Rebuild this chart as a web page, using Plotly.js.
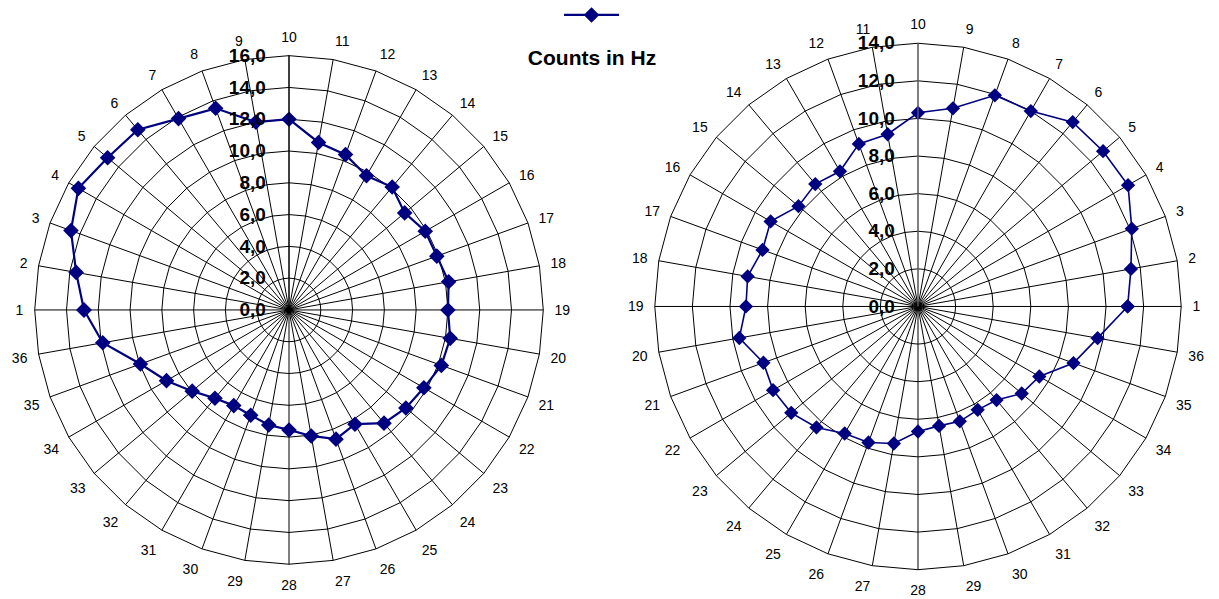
<!DOCTYPE html>
<html>
<head>
<meta charset="utf-8">
<script src="https://cdn.plot.ly/plotly-3.0.1.min.js"></script>
<style>html,body{margin:0;padding:0;background:#fff;}#chart{width:1219px;height:599px;}</style>
</head>
<body>
<div id="chart"></div>
<script>
// Categories (measurement positions 1..36)
const categories = ['1','2','3','4','5','6','7','8','9','10','11','12','13','14','15','16','17','18',
  '19','20','21','22','23','24','25','26','27','28','29','30','31','32','33','34','35','36'];
// Left radar values (Counts in Hz)
const leftValues = [12.9,13.6,14.6,15.3,14.9,14.8,13.9,13.5,12.0,12.0,10.7,10.4,9.75,10.1,9.5,9.9,9.9,10.2,
  10.0,10.3,10.2,9.8,9.6,9.3,8.3,8.65,8.05,7.55,7.35,7.05,6.95,7.25,7.95,8.9,9.95,11.9];
// Right radar values (Counts in Hz)
const rightValues = [11.15,11.5,12.1,12.9,12.85,12.8,12.0,11.95,10.7,10.3,9.3,9.2,8.3,8.5,8.3,9.05,8.8,9.2,
  9.15,9.65,8.75,8.9,8.8,8.4,7.8,7.7,7.4,6.65,6.45,6.5,6.35,6.5,7.2,7.45,8.8,9.7];
const leftTicks = [0,2,4,6,8,10,12,14,16];
const rightTicks = [0,2,4,6,8,10,12,14];
const chartTitle = 'Counts in Hz';

const navy = '#000080';
const closeR = a => a.concat([a[0]]);
const theta = categories.concat([categories[0]]);

const traces = [
  {type:'scatterpolar', subplot:'polar', r: closeR(leftValues), theta: theta, mode:'lines+markers',
   name:' ', line:{color:navy, width:2.2}, marker:{symbol:'diamond', size:12, color:navy}, showlegend:true},
  {type:'scatterpolar', subplot:'polar2', r: closeR(rightValues), theta: theta, mode:'lines+markers',
   name:' ', line:{color:navy, width:1.6}, marker:{symbol:'diamond', size:11, color:navy}, showlegend:false}
];

function radial(range, ticks, lineColor){
  return {range: range, tickvals: ticks, tickformat: '.1f', angle: 90, side: 'counterclockwise',
    tickangle: 90,
    showline: true, linecolor: lineColor, linewidth: 1, showgrid: true, gridcolor: '#000', gridwidth: 1,
    ticks: 'outside', ticklen: 16, tickcolor: 'rgba(0,0,0,0)',
    tickfont: {family: 'Liberation Sans, Arial', size: 19, color: '#000', weight: 'bold'}};
}
function angular(dir, rot){
  return {type:'category', categoryarray: categories, direction: dir, rotation: rot,
    showline: true, linecolor: '#000', linewidth: 1, showgrid: true, gridcolor: '#000', gridwidth: 1,
    ticks: 'outside', ticklen: 8, tickcolor: 'rgba(0,0,0,0)',
    tickfont: {family: 'Liberation Sans, Arial', size: 14, color: '#000'}};
}

const W = 1219, H = 599;
const layout = {
  width: W, height: H, margin: {l:0, r:0, t:0, b:0}, paper_bgcolor:'#fff',
  separators: ', ',
  showlegend: true,
  legend: {x: 0.4586, y: 1.006, xanchor: 'left', yanchor: 'top', bgcolor: 'rgba(0,0,0,0)', itemwidth: 55,
    font: {family: 'Liberation Sans, Arial', size: 12}},
  title: {text: chartTitle, x: 592/W, xanchor: 'center', y: 1 - 58/H, yanchor: 'middle',
    font: {family: 'Liberation Sans, Arial', size: 21, color: '#000', weight: 'bold'}},
  polar: {domain: {x: [33/W, 545/W], y: [(H-564)/H, (H-52)/H]}, gridshape: 'linear', bgcolor: '#fff',
    radialaxis: radial([0,16], leftTicks, '#000'), angularaxis: angular('clockwise', 180)},
  polar2: {domain: {x: [653/W, 1183/W], y: [(H-569.5)/H, (H-39.5)/H]}, gridshape: 'linear', bgcolor: '#fff',
    radialaxis: radial([0,14], rightTicks, '#808080'), angularaxis: angular('counterclockwise', 0)}
};

Plotly.newPlot('chart', traces, layout, {displayModeBar: false, staticPlot: true});
</script>
</body>
</html>
